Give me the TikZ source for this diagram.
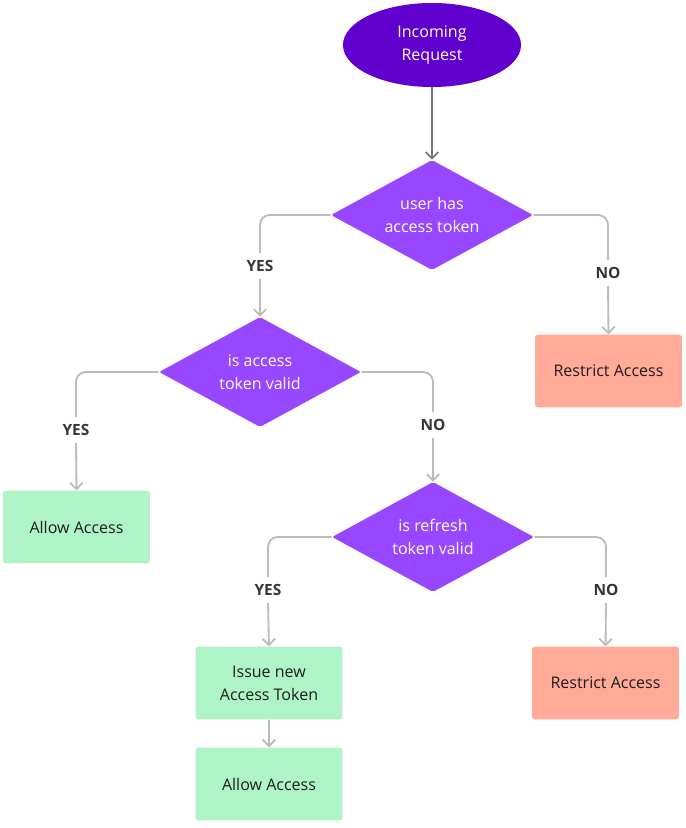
\documentclass[tikz,border=0pt]{standalone}
\usepackage{fontspec}
\setmainfont{Open Sans}
\usetikzlibrary{shapes.geometric}
\usetikzlibrary{arrows.meta}

\definecolor{startpurple}{HTML}{6000CF}
\definecolor{askpurple}{HTML}{9747FF}
\definecolor{allowgreen}{HTML}{AFF4C6}
\definecolor{denyred}{HTML}{FFAB97}
\definecolor{linegray}{HTML}{BBBBBB}
\definecolor{darkgray}{HTML}{777777}
\definecolor{inkgray}{HTML}{1E1E1E}

\tikzset{
  start/.style={ellipse,fill=startpurple,text=white,minimum width=4.45cm,minimum height=2.1cm,align=center,inner sep=0pt,font=\fontsize{11.4pt}{16.6pt}\selectfont},
  ask/.style={diamond,shape aspect=1.84,fill=askpurple,text=white,minimum width=5.05cm,minimum height=2.75cm,inner sep=0pt,align=center,rounded corners=1.5pt,font=\fontsize{11.4pt}{16.4pt}\selectfont},
  allow/.style={rectangle,fill=allowgreen,text=inkgray,minimum width=3.67cm,minimum height=1.82cm,rounded corners=2pt,align=center,font=\fontsize{11.4pt}{16.4pt}\selectfont},
  deny/.style={allow,fill=denyred},
  answer/.style={text=inkgray!90,font=\bfseries\fontsize{11pt}{12pt}\selectfont,inner sep=5pt},
  flow/.style={draw=linegray,line width=1.3pt,rounded corners=7pt},
  flowarrow/.style={flow,-{Straight Barb[length=4.5pt,width=9pt,line width=1.3pt]}}
}

\begin{document}
\begin{tikzpicture}[x=0.025cm,y=-0.025cm]
\useasboundingbox (0,0) rectangle (685,828);

% nodes
\node[start] (req) at (432,45) {Incoming\\Request};
\node[ask] (hastoken) at (432,215) {user has\\access token};
\node[deny] (deny1) at (608.5,371) {Restrict Access};
\node[ask] (validtoken) at (260,372) {is access\\token valid};
\node[allow] (allow1) at (76.5,527) {Allow Access};
\node[ask] (validrefresh) at (433,537) {is refresh\\token valid};
\node[allow] (issue) at (269,683) {Issue new\\Access Token};
\node[deny] (deny2) at (605.5,683) {Restrict Access};
\node[allow] (allow2) at (269,784) {Allow Access};

% labels
\node[answer] (yes1) at (260,266) {YES};
\node[answer] (no1) at (608,273) {NO};
\node[answer] (yes2) at (76,430) {YES};
\node[answer] (no2) at (433,425) {NO};
\node[answer] (yes3) at (268,590) {YES};
\node[answer] (no3) at (606,590) {NO};

% connectors
\draw[flowarrow,draw=darkgray] (req.south) -- (hastoken.north);
\draw[flow] (hastoken.west) -| (yes1.north);
\draw[flowarrow] (yes1.south) -- (validtoken.north);
\draw[flow] (hastoken.east) -| (no1.north);
\draw[flowarrow] (no1.south) -- (deny1.north);
\draw[flow] (validtoken.west) -| (yes2.north);
\draw[flowarrow] (yes2.south) -- (allow1.north);
\draw[flow] (validtoken.east) -| (no2.north);
\draw[flowarrow] (no2.south) -- (validrefresh.north);
\draw[flow] (validrefresh.west) -| (yes3.north);
\draw[flowarrow] (yes3.south) -- (issue.north);
\draw[flow] (validrefresh.east) -| (no3.north);
\draw[flowarrow] (no3.south) -- (deny2.north);
\draw[flowarrow] (issue.south) -- (allow2.north);

\end{tikzpicture}
\end{document}
